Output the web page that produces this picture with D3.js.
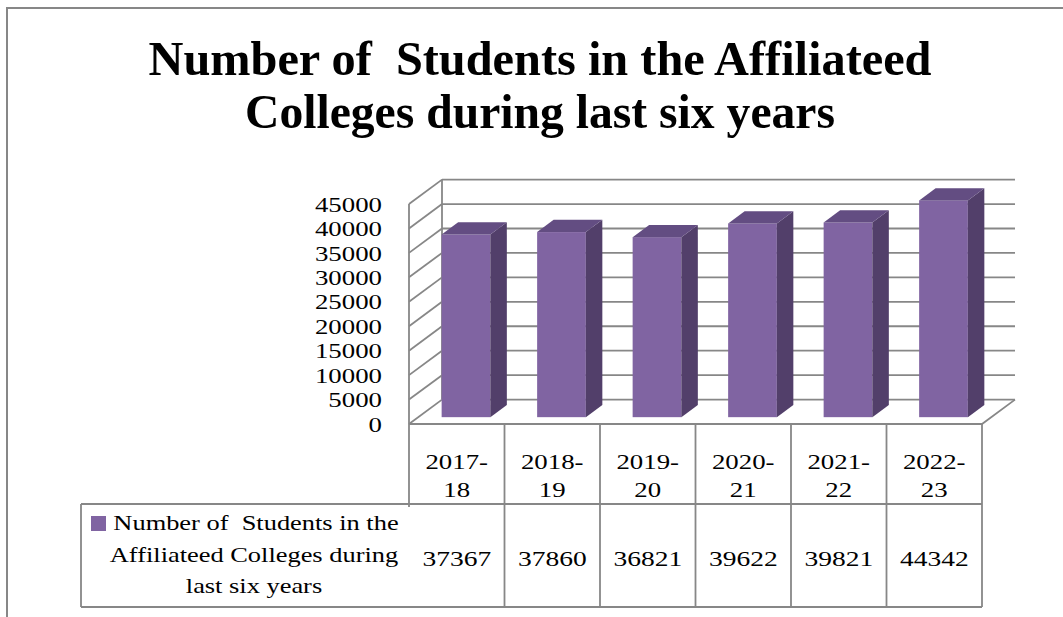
<!DOCTYPE html>
<html>
<head>
<meta charset="utf-8">
<script src="https://cdn.jsdelivr.net/npm/d3@7"></script>
<style>
  body { margin: 0; background: #fff; }
  svg { display: block; }
  text { font-family: "Liberation Serif", "Times New Roman", serif; fill: #000; }
</style>
</head>
<body>
<div class="chart"></div>
<script>
// data
const categories = ["2017-18", "2018-19", "2019-20", "2020-21", "2021-22", "2022-23"];
const values = [37367, 37860, 36821, 39622, 39821, 44342];
const yTicks = [0, 5000, 10000, 15000, 20000, 25000, 30000, 35000, 40000, 45000];
const titleLines = ["Number of  Students in the Affiliateed", "Colleges during last six years"];
const legendLines = ["Number of  Students in the", "Affiliateed Colleges during", "last six years"];

const width = 1063;
const height = 617;
const svg = d3.select('.chart')
    .append('svg')
    .attr('width', width)
    .attr('height', height);

const gridColor = '#878787';
const frontColor = '#8064a2', sideColor = '#523f6a', topColor = '#634d82';

// the small text in the picture is a bit wider than the font, stretch it
function stretch(sel, k) {
    sel.each(function() {
        let w = this.getComputedTextLength();
        d3.select(this).attr('textLength', w * k).attr('lengthAdjust', 'spacingAndGlyphs');
    });
}

// outer frame
svg.append('path')
    .attr('d', 'M7,' + height + ' V8 H' + width)
    .attr('fill', 'none')
    .attr('stroke', gridColor)
    .attr('stroke-width', 2);

// title
svg.selectAll('.title')
    .data(titleLines)
    .enter()
    .append('text')
    .attr('class', 'title')
    .attr('x', 540)
    .attr('y', (d, i) => 75 + i * 53)
    .attr('text-anchor', 'middle')
    .attr('font-size', 49)
    .attr('font-weight', 'bold')
    .attr('textLength', (d, i) => i == 0 ? 783 : 590)
    .attr('lengthAdjust', 'spacingAndGlyphs')
    .style('white-space', 'pre')
    .text(d => d);

// 3d geometry
const left = 409, right = 982;
const DX = 33, DY = 24.4;      // depth of the floor
const f0 = 0.28, f1 = 0.78;    // where the bars sit inside the depth

const x = d3.scaleBand().domain(categories).range([left, right]);
const xb = d3.scaleBand().domain(categories).range([left, right]).paddingInner(0.49).paddingOuter(0.245);
const y = d3.scaleLinear().domain([0, 45000]).range([424, 204]);

// back wall gridlines
svg.selectAll('.grid')
    .data(yTicks)
    .enter()
    .append('line')
    .attr('class', 'grid')
    .attr('x1', left + DX)
    .attr('x2', right + DX)
    .attr('y1', d => y(d) - DY)
    .attr('y2', d => y(d) - DY)
    .attr('stroke', gridColor)
    .attr('stroke-width', 1.8);

// side wall gridlines
svg.selectAll('.sgrid')
    .data(yTicks)
    .enter()
    .append('line')
    .attr('class', 'sgrid')
    .attr('x1', left)
    .attr('x2', left + DX)
    .attr('y1', d => y(d))
    .attr('y2', d => y(d) - DY)
    .attr('stroke', gridColor)
    .attr('stroke-width', 1.8);

// wall edges and floor
svg.append('line')
    .attr('x1', left).attr('x2', left)
    .attr('y1', y(45000)).attr('y2', y(0) + 83)
    .attr('stroke', gridColor).attr('stroke-width', 1.8);
svg.append('line')
    .attr('x1', left + DX).attr('x2', left + DX)
    .attr('y1', y(45000) - DY).attr('y2', y(0) - DY)
    .attr('stroke', gridColor).attr('stroke-width', 1.8);
svg.append('path')
    .attr('d', 'M' + left + ',' + y(0) + ' H' + right + ' L' + (right + DX) + ',' + (y(0) - DY))
    .attr('fill', 'none')
    .attr('stroke', gridColor).attr('stroke-width', 1.8);

// y labels
svg.selectAll('.ylab')
    .data(yTicks)
    .enter()
    .append('text')
    .attr('class', 'ylab')
    .attr('x', 382)
    .attr('y', d => y(d))
    .attr('dy', '0.35em')
    .attr('text-anchor', 'end')
    .attr('font-size', 22)
    .text(d => d)
    .call(stretch, 1.22);

// bars
const bw = xb.bandwidth();
const ox = f0 * DX, oy = f0 * DY;
const ddx = (f1 - f0) * DX, ddy = (f1 - f0) * DY;
const bars = svg.selectAll('.bar')
    .data(values)
    .enter()
    .append('g')
    .attr('class', 'bar');

bars.append('rect')
    .attr('x', (d, i) => xb(categories[i]) + ox)
    .attr('y', d => y(d) - oy)
    .attr('width', bw)
    .attr('height', d => y(0) - y(d))
    .attr('fill', frontColor);

bars.append('polygon')
    .attr('points', function(d, i) {
        let x1 = xb(categories[i]) + ox + bw;
        let t = y(d) - oy, b = y(0) - oy;
        return [[x1, t], [x1 + ddx, t - ddy], [x1 + ddx, b - ddy], [x1, b]].join(' ');
    })
    .attr('fill', sideColor);

bars.append('polygon')
    .attr('points', function(d, i) {
        let x0 = xb(categories[i]) + ox;
        let t = y(d) - oy;
        return [[x0, t], [x0 + ddx, t - ddy], [x0 + bw + ddx, t - ddy], [x0 + bw, t]].join(' ');
    })
    .attr('fill', topColor);

// data table
const rowTop = y(0), rowMid = 504, rowBot = 607, legLeft = 81;

svg.append('path')
    .attr('d', 'M' + legLeft + ',' + rowMid + ' H' + right + ' M' + legLeft + ',' + rowBot + ' H' + right +
        ' M' + legLeft + ',' + rowMid + ' V' + rowBot)
    .attr('fill', 'none')
    .attr('stroke', gridColor).attr('stroke-width', 1.8);

svg.selectAll('.col')
    .data(categories)
    .enter()
    .append('line')
    .attr('class', 'col')
    .attr('x1', d => x(d) + x.bandwidth())
    .attr('x2', d => x(d) + x.bandwidth())
    .attr('y1', rowTop)
    .attr('y2', rowBot)
    .attr('stroke', gridColor).attr('stroke-width', 1.8);

// category labels, split after the dash
svg.selectAll('.cat1')
    .data(categories)
    .enter()
    .append('text')
    .attr('class', 'cat1')
    .attr('x', d => x(d) + x.bandwidth() / 2)
    .attr('y', 469)
    .attr('text-anchor', 'middle')
    .attr('font-size', 22)
    .text(d => d.split('-')[0] + '-')
    .call(stretch, 1.22);
svg.selectAll('.cat2')
    .data(categories)
    .enter()
    .append('text')
    .attr('class', 'cat2')
    .attr('x', d => x(d) + x.bandwidth() / 2)
    .attr('y', 497)
    .attr('text-anchor', 'middle')
    .attr('font-size', 22)
    .text(d => d.split('-')[1])
    .call(stretch, 1.22);

// values row
svg.selectAll('.val')
    .data(values)
    .enter()
    .append('text')
    .attr('class', 'val')
    .attr('x', (d, i) => x(categories[i]) + x.bandwidth() / 2)
    .attr('y', 566)
    .attr('text-anchor', 'middle')
    .attr('font-size', 22)
    .text(d => d)
    .call(stretch, 1.25);

// legend cell
svg.append('rect')
    .attr('x', 91).attr('y', 516)
    .attr('width', 15).attr('height', 15)
    .attr('fill', frontColor);

svg.selectAll('.leg')
    .data(legendLines)
    .enter()
    .append('text')
    .attr('class', 'leg')
    .attr('x', (d, i) => i == 0 ? 256 : 254)
    .attr('y', (d, i) => 530 + i * 31.5)
    .attr('text-anchor', 'middle')
    .attr('font-size', 22)
    .style('white-space', 'pre')
    .text(d => d)
    .call(stretch, 1.2);
</script>
</body>
</html>
